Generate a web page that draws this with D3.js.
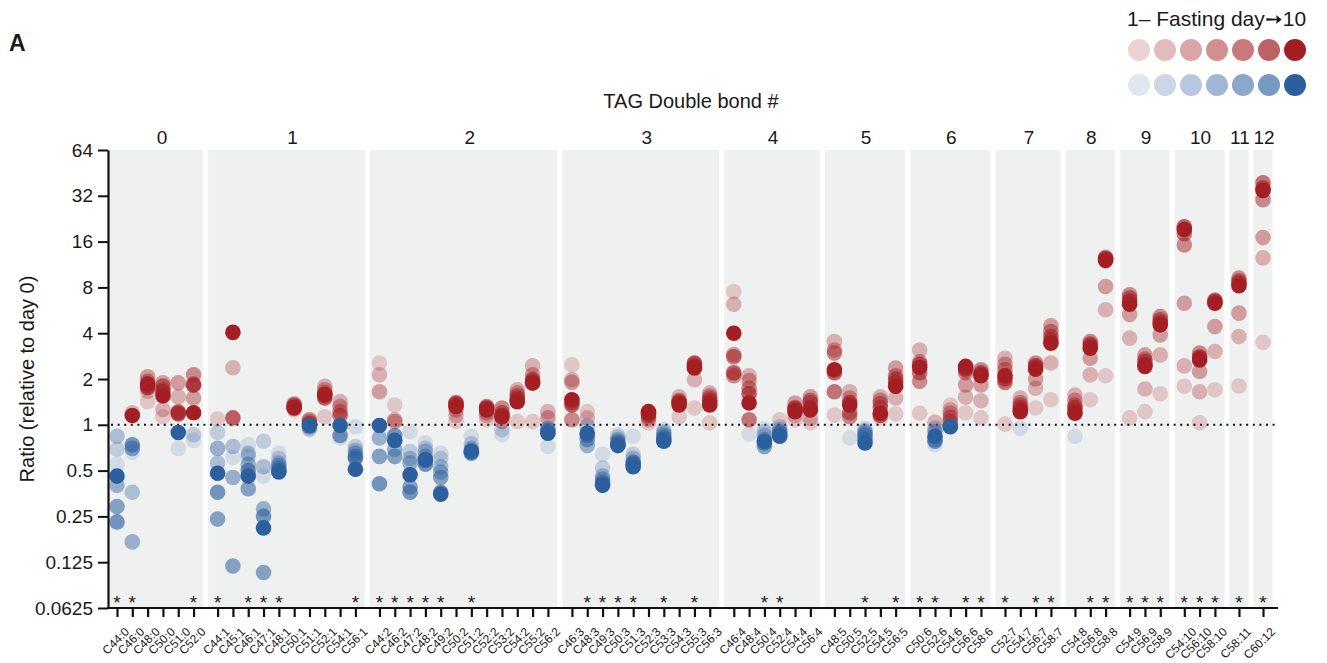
<!DOCTYPE html>
<html>
<head>
<meta charset="utf-8">
<script src="https://cdn.jsdelivr.net/npm/d3@7"></script>
<style>
  body { margin: 0; background: #fff; }
  svg text { font-family: "Liberation Sans", Arial, sans-serif; fill: #1a1a1a; }
</style>
</head>
<body>
<div id="chart"></div>
<script>
// lipid species, grouped by number of double bonds (after the colon)
const lipids = ["C44:0","C46:0","C48:0","C50:0","C51:0","C52:0",
  "C44:1","C45:1","C46:1","C47:1","C48:1","C50:1","C51:1","C52:1","C54:1","C56:1",
  "C44:2","C46:2","C47:2","C48:2","C49:2","C50:2","C51:2","C52:2","C53:2","C54:2","C55:2","C56:2",
  "C46:3","C48:3","C49:3","C50:3","C51:3","C52:3","C53:3","C54:3","C55:3","C56:3",
  "C46:4","C48:4","C50:4","C52:4","C54:4","C56:4",
  "C48:5","C50:5","C52:5","C54:5","C56:5",
  "C50:6","C52:6","C54:6","C56:6","C58:6",
  "C52:7","C54:7","C56:7","C58:7",
  "C54:8","C56:8","C58:8",
  "C54:9","C56:9","C58:9",
  "C54:10","C56:10","C58:10",
  "C58:11","C60:12"];

const bondGroups = [0,1,2,3,4,5,6,7,8,9,10,11,12];

// ratio to day 0, one row per lipid, columns = fasting days (first -> day 10)
const ratios = [
  [0.55,0.69,0.84,0.40,0.29,0.23,0.46],
  [0.66,1.20,0.36,0.17,0.70,0.74,1.15],
  [1.42,1.66,2.07,1.93,1.79,1.75,1.85],
  [1.13,1.26,1.89,1.70,1.80,1.65,1.55],
  [0.70,1.53,1.89,1.22,1.20,1.18,0.89],
  [0.79,0.86,1.50,2.13,1.85,1.82,1.20],
  [1.09,0.89,0.56,0.70,0.24,0.36,0.48],
  [0.61,2.37,0.72,0.45,0.118,1.11,4.05],
  [0.74,0.62,0.65,0.55,0.38,0.50,0.46],
  [0.46,0.78,0.53,0.28,0.107,0.25,0.21],
  [0.65,0.60,0.56,0.54,0.52,0.50,0.49],
  [1.25,1.38,1.33,1.30,1.28,1.35,1.30],
  [0.95,0.93,1.05,1.08,0.97,1.02,0.99],
  [1.13,1.79,1.70,1.62,1.55,1.50,1.58],
  [0.82,1.42,1.32,1.22,1.15,0.85,0.99],
  [0.97,0.72,0.68,0.65,0.62,0.60,0.51],
  [2.55,2.13,1.65,0.82,0.62,0.41,0.99],
  [1.35,1.08,1.05,0.69,0.62,0.85,0.79],
  [0.90,0.67,0.60,0.56,0.39,0.36,0.47],
  [0.76,0.70,0.67,0.62,0.58,0.55,0.59],
  [0.65,0.60,0.53,0.49,0.45,0.36,0.35],
  [1.05,1.15,1.25,1.40,1.35,1.38,1.32],
  [0.84,0.75,0.70,0.68,0.66,0.65,0.67],
  [1.08,1.15,1.20,1.32,1.30,1.28,1.25],
  [0.86,0.93,1.05,1.29,1.20,1.15,1.13],
  [1.05,1.70,1.62,1.55,1.50,1.45,1.42],
  [1.05,2.44,2.13,2.00,1.95,1.90,1.88],
  [0.72,1.22,1.11,0.95,0.92,0.90,0.88],
  [2.48,1.98,1.90,1.08,1.40,1.35,1.46],
  [1.22,1.11,0.98,0.73,0.80,0.85,0.88],
  [0.64,0.52,0.46,0.44,0.42,0.41,0.40],
  [0.86,0.83,0.80,0.78,0.76,0.74,0.73],
  [0.84,0.64,0.60,0.57,0.55,0.56,0.53],
  [1.03,1.08,1.12,1.15,1.18,1.20,1.22],
  [0.93,0.90,0.88,0.85,0.82,0.80,0.78],
  [1.13,1.53,1.45,1.42,1.40,1.38,1.35],
  [1.29,1.98,2.50,2.45,2.40,2.55,2.36],
  [1.03,1.62,1.55,1.50,1.45,1.40,1.35],
  [7.5,6.2,2.9,2.1,2.8,2.2,4.0],
  [0.87,2.10,1.95,1.74,1.08,1.60,1.39],
  [0.94,0.90,0.85,0.80,0.72,0.76,0.78],
  [1.08,0.97,0.93,0.90,0.88,0.86,0.84],
  [1.08,1.15,1.39,1.30,1.28,1.25,1.22],
  [1.03,1.10,1.53,1.45,1.40,1.30,1.25],
  [1.16,3.53,3.10,2.96,1.65,2.20,2.30],
  [0.82,1.65,1.50,1.13,1.20,1.40,1.35],
  [0.95,0.92,0.90,0.88,0.85,0.80,0.76],
  [1.11,1.53,1.45,1.38,1.30,1.15,1.19],
  [1.18,1.50,2.36,2.10,2.00,1.90,1.79],
  [1.19,3.10,2.60,1.93,2.20,2.50,2.38],
  [0.74,1.04,0.95,0.90,0.80,0.78,0.84],
  [1.35,1.25,1.19,1.12,1.05,0.98,0.97],
  [1.20,1.52,1.83,2.20,2.30,2.35,2.42],
  [1.11,1.44,1.83,2.30,2.20,2.15,2.10],
  [1.01,2.74,2.50,2.30,1.90,2.00,2.10],
  [0.95,1.50,1.40,1.35,1.30,1.25,1.22],
  [1.29,1.74,2.00,2.55,2.45,2.40,2.32],
  [1.46,2.55,4.48,4.10,3.80,3.60,3.44],
  [0.84,1.57,1.45,1.35,1.30,1.25,1.19],
  [1.46,2.13,2.74,3.53,3.40,3.30,3.19],
  [2.1,5.7,8.1,12.6,12.4,12.3,12.0],
  [1.11,3.71,5.3,7.15,6.8,6.5,6.2],
  [1.22,1.72,2.88,2.70,2.60,2.50,2.42],
  [1.60,2.88,3.90,5.15,4.90,4.70,4.54],
  [1.79,2.44,6.3,15.2,18,20,19.2],
  [1.03,1.65,2.24,2.96,2.80,2.75,2.67],
  [1.70,3.03,4.42,6.6,6.5,6.4,6.3],
  [1.8,3.8,5.42,9.2,8.8,8.5,8.2],
  [3.48,12.5,17.0,30.2,39,36,34.7]
];

// species marked with an asterisk
const significant = ["C44:0","C46:0","C52:0","C44:1","C46:1","C47:1","C48:1","C56:1",
  "C44:2","C46:2","C47:2","C48:2","C49:2","C51:2","C48:3","C49:3","C50:3","C51:3","C53:3","C55:3",
  "C50:4","C52:4","C52:5","C56:5","C50:6","C52:6","C56:6","C58:6","C52:7","C56:7","C58:7",
  "C56:8","C58:8","C54:9","C56:9","C58:9","C54:10","C56:10","C58:10","C58:11","C60:12"];

const yTicks = [0.0625, 0.125, 0.25, 0.5, 1, 2, 4, 8, 16, 32, 64];
const dayCount = 7;

const W = 1327, H = 663;
const redBase = "#a31f24", blueBase = "#2c5f9e";
const redAlpha = [0.2, 0.3, 0.4, 0.5, 0.6, 0.7, 1];
const blueAlpha = [0.15, 0.25, 0.34, 0.45, 0.55, 0.64, 1];
const gapSlots = 0.57;

const svg = d3.select("#chart").append("svg")
  .attr("width", W).attr("height", H);

// slot positions: one slot per lipid plus a gap between bond groups
const rows = lipids.map((name, i) => {
  const g = +name.split(":")[1];
  return { name, g, slot: i + bondGroups.indexOf(g) * gapSlots, vals: ratios[i] };
});
const maxSlot = d3.max(rows, d => d.slot);

const x = d3.scaleLinear().domain([0, maxSlot]).range([117, 1263]);
const step = x(1) - x(0);
const y = d3.scaleLog().base(2).domain([0.0625, 64]).range([608, 150]);

// grey group panels
const panels = bondGroups.map(g => {
  const r = rows.filter(d => d.g === g);
  return { g, x0: x(r[0].slot) - 0.62 * step, x1: x(r[r.length - 1].slot) + 0.62 * step };
});
panels[0].x0 = 109;

svg.append("g").selectAll("rect")
  .data(panels).enter().append("rect")
    .attr("x", d => d.x0)
    .attr("y", y(64))
    .attr("width", d => d.x1 - d.x0)
    .attr("height", y(0.0625) - y(64))
    .attr("fill", "#eff0f0");

svg.append("g")
    .attr("font-size", 19)
    .attr("text-anchor", "middle")
  .selectAll("text")
  .data(panels).enter().append("text")
    .attr("x", d => (d.x0 + d.x1) / 2 + (d.g < 4 ? 6 : 1))
    .attr("y", 144)
    .text(d => d.g);

svg.append("text")
    .attr("x", 691).attr("y", 108)
    .attr("font-size", 20)
    .attr("text-anchor", "middle")
    .text("TAG Double bond #");

// dotted reference line at 1
svg.append("line")
    .attr("x1", 111).attr("x2", 1278)
    .attr("y1", y(1)).attr("y2", y(1))
    .attr("stroke", "#111")
    .attr("stroke-width", 2)
    .attr("stroke-dasharray", "2,4.6");

// points, drawn from first day to day 10 so the darkest sits on top
const pts = [];
for (let k = 0; k < dayCount; k++) {
  rows.forEach(r => pts.push({ slot: r.slot, v: r.vals[k], k }));
}
svg.append("g").selectAll("circle")
  .data(pts).enter().append("circle")
    .attr("cx", d => x(d.slot))
    .attr("cy", d => y(d.v))
    .attr("r", 7.8)
    .attr("fill", d => d.v >= 1 ? redBase : blueBase)
    .attr("fill-opacity", d => d.v >= 1 ? redAlpha[d.k] : blueAlpha[d.k]);

// asterisks
svg.append("g")
    .attr("font-size", 19)
    .attr("text-anchor", "middle")
  .selectAll("text")
  .data(rows.filter(d => significant.includes(d.name))).enter().append("text")
    .attr("x", d => x(d.slot))
    .attr("y", 609)
    .attr("fill", "#444")
    .text("*");

// y axis
const yAxis = svg.append("g")
    .attr("transform", "translate(108,0)")
    .call(d3.axisLeft(y).tickValues(yTicks).tickFormat(d => String(d)).tickSize(10).tickSizeOuter(0).tickPadding(5));
yAxis.select(".domain").attr("stroke", "#111").attr("stroke-width", 2.2);
yAxis.selectAll(".tick line").attr("stroke", "#111").attr("stroke-width", 2);
yAxis.selectAll(".tick text").attr("font-size", 19).attr("font-family", "Liberation Sans, Arial, sans-serif").attr("fill", "#1a1a1a");

svg.append("text")
    .attr("transform", "translate(34,379) rotate(-90)")
    .attr("font-size", 20)
    .attr("text-anchor", "middle")
    .text("Ratio (relative to day 0)");

// x axis
const xPos = d3.scaleOrdinal().domain(lipids).range(rows.map(d => x(d.slot)));
const xAxis = svg.append("g")
    .attr("transform", "translate(0,608)")
    .call(d3.axisBottom(xPos).tickSize(9).tickSizeOuter(0));
xAxis.select(".domain").remove();
xAxis.append("line")
    .attr("x1", 107).attr("x2", 1278)
    .attr("stroke", "#111").attr("stroke-width", 2.2);
xAxis.selectAll(".tick line").attr("stroke", "#111").attr("stroke-width", 2.2);
xAxis.selectAll(".tick text")
    .attr("font-size", 12)
    .attr("font-family", "Liberation Sans, Arial, sans-serif")
    .attr("fill", "#1a1a1a")
    .attr("text-anchor", "end")
    .attr("dy", 0)
    .attr("transform", "translate(4,16) rotate(-45)");

// panel label A
svg.append("text")
    .attr("x", 9).attr("y", 51)
    .attr("font-size", 23)
    .attr("font-weight", "bold")
    .text("A");

// legend, cut at the right edge like the figure crop
svg.append("clipPath").attr("id", "legclip")
  .append("rect").attr("x", 1090).attr("y", 0).attr("width", 218).attr("height", 110);
const leg = svg.append("g").attr("clip-path", "url(#legclip)");
leg.append("text")
    .attr("x", 1127).attr("y", 26)
    .attr("font-size", 21)
    .text("1\u2013 Fasting day\u279910");
const legDays = d3.range(dayCount);
leg.selectAll("circle.r").data(legDays).enter().append("circle")
    .attr("cx", k => 1139 + k * 26)
    .attr("cy", 50)
    .attr("r", 11)
    .attr("fill", redBase)
    .attr("fill-opacity", k => redAlpha[k]);
leg.selectAll("circle.b").data(legDays).enter().append("circle")
    .attr("cx", k => 1139 + k * 26)
    .attr("cy", 85)
    .attr("r", 11)
    .attr("fill", blueBase)
    .attr("fill-opacity", k => blueAlpha[k]);
</script>
</body>
</html>
